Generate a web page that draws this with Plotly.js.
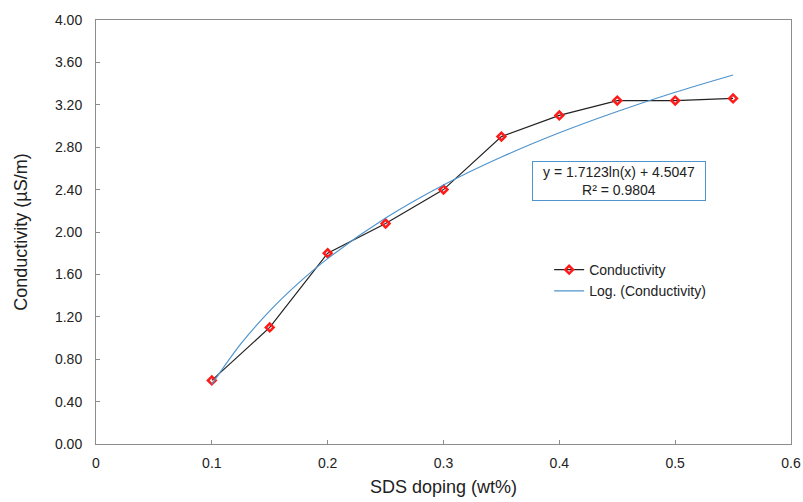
<!DOCTYPE html>
<html><head><meta charset="utf-8">
<script src="https://cdn.plot.ly/plotly-3.0.1.min.js"></script>
<style>html,body{margin:0;padding:0;background:#fff}#c{width:803px;height:502px}</style>
</head><body><div id="c"></div>
<script>
const doping = [0.1, 0.15, 0.2, 0.25, 0.3, 0.35, 0.4, 0.45, 0.5, 0.55];
const conductivity = [0.60, 1.10, 1.80, 2.08, 2.40, 2.90, 3.10, 3.24, 3.24, 3.26];
const trendX = [0.1, 0.125, 0.15, 0.175, 0.2, 0.25, 0.3, 0.35, 0.4, 0.45, 0.5, 0.55];
const trendY = [0.562, 0.944, 1.256, 1.520, 1.749, 2.131, 2.443, 2.707, 2.936, 3.137, 3.318, 3.481];
const xTicks = [0, 0.1, 0.2, 0.3, 0.4, 0.5, 0.6];
const xTickText = ["0", "0.1", "0.2", "0.3", "0.4", "0.5", "0.6"];
const yTicks = [0, 0.4, 0.8, 1.2, 1.6, 2.0, 2.4, 2.8, 3.2, 3.6, 4.0];

const fam = "Liberation Sans, Arial, sans-serif";
const data = [
  {x: doping, y: conductivity, name: "Conductivity", type: "scatter", mode: "lines+markers",
   line: {color: "#222", width: 1.2},
   marker: {symbol: "diamond-open", color: "#ff1a1a", size: 6, line: {color: "#ff1a1a", width: 2.5}}},
  {x: trendX, y: trendY, name: "Log. (Conductivity)", type: "scatter", mode: "lines",
   line: {color: "#4f94cd", width: 1.2, shape: "spline"}}
];
const axisCommon = {showgrid: false, zeroline: false, showline: true, linecolor: "#8c8c8c", linewidth: 1,
  mirror: true, ticks: "inside", ticklen: 4, tickcolor: "#8c8c8c", tickfont: {family: fam, size: 14, color: "#222"}};
const layout = {
  width: 803, height: 502,
  margin: {l: 96, r: 12, t: 20, b: 58},
  paper_bgcolor: "#fff", plot_bgcolor: "#fff",
  font: {family: fam, color: "#222"},
  showlegend: true,
  legend: {x: 0.652, y: 0.448, xanchor: "left", yanchor: "top", bgcolor: "rgba(0,0,0,0)",
    font: {family: fam, size: 14, color: "#222"}, tracegroupgap: 0, itemwidth: 30},
  xaxis: Object.assign({}, axisCommon, {range: [0, 0.6], tickvals: xTicks, ticktext: xTickText,
    ticklabelstandoff: 6,
    title: {text: "SDS doping (wt%)", font: {family: fam, size: 18, color: "#222"}, standoff: 10}}),
  yaxis: Object.assign({}, axisCommon, {range: [0, 4.0], tickvals: yTicks, tickformat: ".2f",
    ticklabelstandoff: 10,
    title: {text: "Conductivity (µS/m)", font: {family: fam, size: 18, color: "#222"}, standoff: 22}}),
  annotations: [{
    x: 0.753, y: 0.62, xref: "paper", yref: "paper", xanchor: "center", yanchor: "middle",
    text: "y = 1.7123ln(x) + 4.5047<br>R² = 0.9804", showarrow: false, align: "center",
    font: {family: fam, size: 14, color: "#222"}, width: 168,
    bordercolor: "#4f94cd", borderwidth: 1, borderpad: 2, bgcolor: "#fff"
  }]
};
Plotly.newPlot("c", data, layout, {displayModeBar: false, staticPlot: true});
</script></body></html>
